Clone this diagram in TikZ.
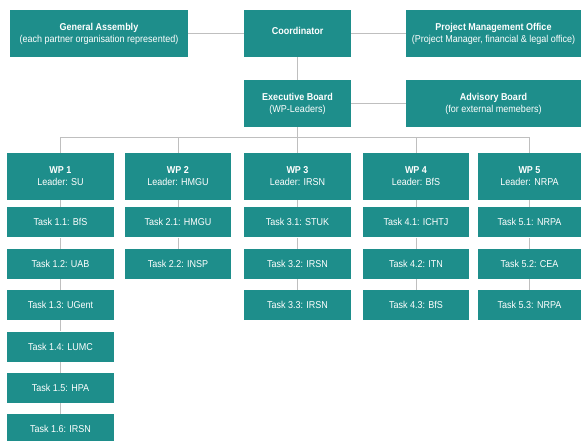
\documentclass[tikz,border=0pt]{standalone}
\usepackage{fontspec}
\setmainfont{Liberation Sans}[FakeStretch=0.9]
\usetikzlibrary{positioning}
\definecolor{teal}{RGB}{30,142,139}

\begin{document}
\begin{tikzpicture}[
  x=1pt, y=-1pt,
  font=\fontsize{10}{12}\selectfont,
  node distance=11pt,
  box/.style={fill=teal, text=white, align=center, inner sep=0pt,
              minimum width=107pt, minimum height=47pt},
  wide/.style={box, minimum width=175pt},
  task/.style={box, minimum height=30pt},
  conn/.style={draw=black!25, line width=0.9pt},
]
\useasboundingbox (0,0) rectangle (581,441);

% ================= top: management =================
\node[wide, minimum width=178pt] (ga) at (99,33.5)
  {\textbf{General Assembly}\\(each partner organisation represented)};
\node[box] (coord) at (297.5,33.5) {\raisebox{5pt}{\textbf{Coordinator}}};
\node[wide] (pmo) at (493.5,33.5)
  {\textbf{Project Management Office}\\(Project Manager, financial \& legal office)};

\node[box] (exec) at (297.5,103.5) {\textbf{Executive Board}\\(WP-Leaders)};
\node[wide] (adv) at (493.5,103.5) {\textbf{Advisory Board}\\(for external memebers)};

\draw[conn] (coord) -- (ga);
\draw[conn] (coord) -- (pmo);
\draw[conn] (coord) -- (exec);
\draw[conn] (exec) -- (adv);

% ================= work packages =================
\node[box] (wp1) at (60.5,176.5) {\textbf{WP 1}\\Leader: SU};
\node[box, minimum width=106pt] (wp2) at (178,176.5) {\textbf{WP 2}\\Leader: HMGU};
\node[box] (wp3) at (297.5,176.5) {\textbf{WP 3}\\Leader: IRSN};
\node[box, minimum width=106pt] (wp4) at (416,176.5) {\textbf{WP 4}\\Leader: BfS};
\node[box, minimum width=103pt] (wp5) at (529.5,176.5) {\textbf{WP 5}\\Leader: NRPA};

\draw[conn] (exec.south) -- ++(0,10) -| (wp1.north);
\draw[conn] (exec.south) -- ++(0,10) -| (wp2.north);
\draw[conn] (exec.south) -- (wp3.north);
\draw[conn] (exec.south) -- ++(0,10) -| (wp4.north);
\draw[conn] (exec.south) -- ++(0,10) -| (wp5.north);

% ================= tasks =================
\node[task, below=7pt of wp1] (t11) {Task 1.1: BfS};
\node[task, below=of t11] (t12) {Task 1.2: UAB};
\node[task, below=of t12] (t13) {Task 1.3: UGent};
\node[task, below=of t13] (t14) {Task 1.4: LUMC};
\node[task, below=of t14] (t15) {Task 1.5: HPA};
\node[task, below=of t15] (t16) {Task 1.6: IRSN};

\node[task, minimum width=106pt, below=7pt of wp2] (t21) {Task 2.1: HMGU};
\node[task, minimum width=106pt, below=of t21] (t22) {Task 2.2: INSP};

\node[task, below=7pt of wp3] (t31) {Task 3.1: STUK};
\node[task, below=of t31] (t32) {Task 3.2: IRSN};
\node[task, below=of t32] (t33) {Task 3.3: IRSN};

\node[task, minimum width=106pt, below=7pt of wp4] (t41) {Task 4.1: ICHTJ};
\node[task, minimum width=106pt, below=of t41] (t42) {Task 4.2: ITN};
\node[task, minimum width=106pt, below=of t42] (t43) {Task 4.3: BfS};

\node[task, minimum width=103pt, below=7pt of wp5] (t51) {Task 5.1: NRPA};
\node[task, minimum width=103pt, below=of t51] (t52) {Task 5.2: CEA};
\node[task, minimum width=103pt, below=of t52] (t53) {Task 5.3: NRPA};

\draw[conn] (wp1) -- (t11) -- (t12) -- (t13) -- (t14) -- (t15) -- (t16);
\draw[conn] (wp2) -- (t21) -- (t22);
\draw[conn] (wp3) -- (t31) -- (t32) -- (t33);
\draw[conn] (wp4) -- (t41) -- (t42) -- (t43);
\draw[conn] (wp5) -- (t51) -- (t52) -- (t53);

\end{tikzpicture}
\end{document}
